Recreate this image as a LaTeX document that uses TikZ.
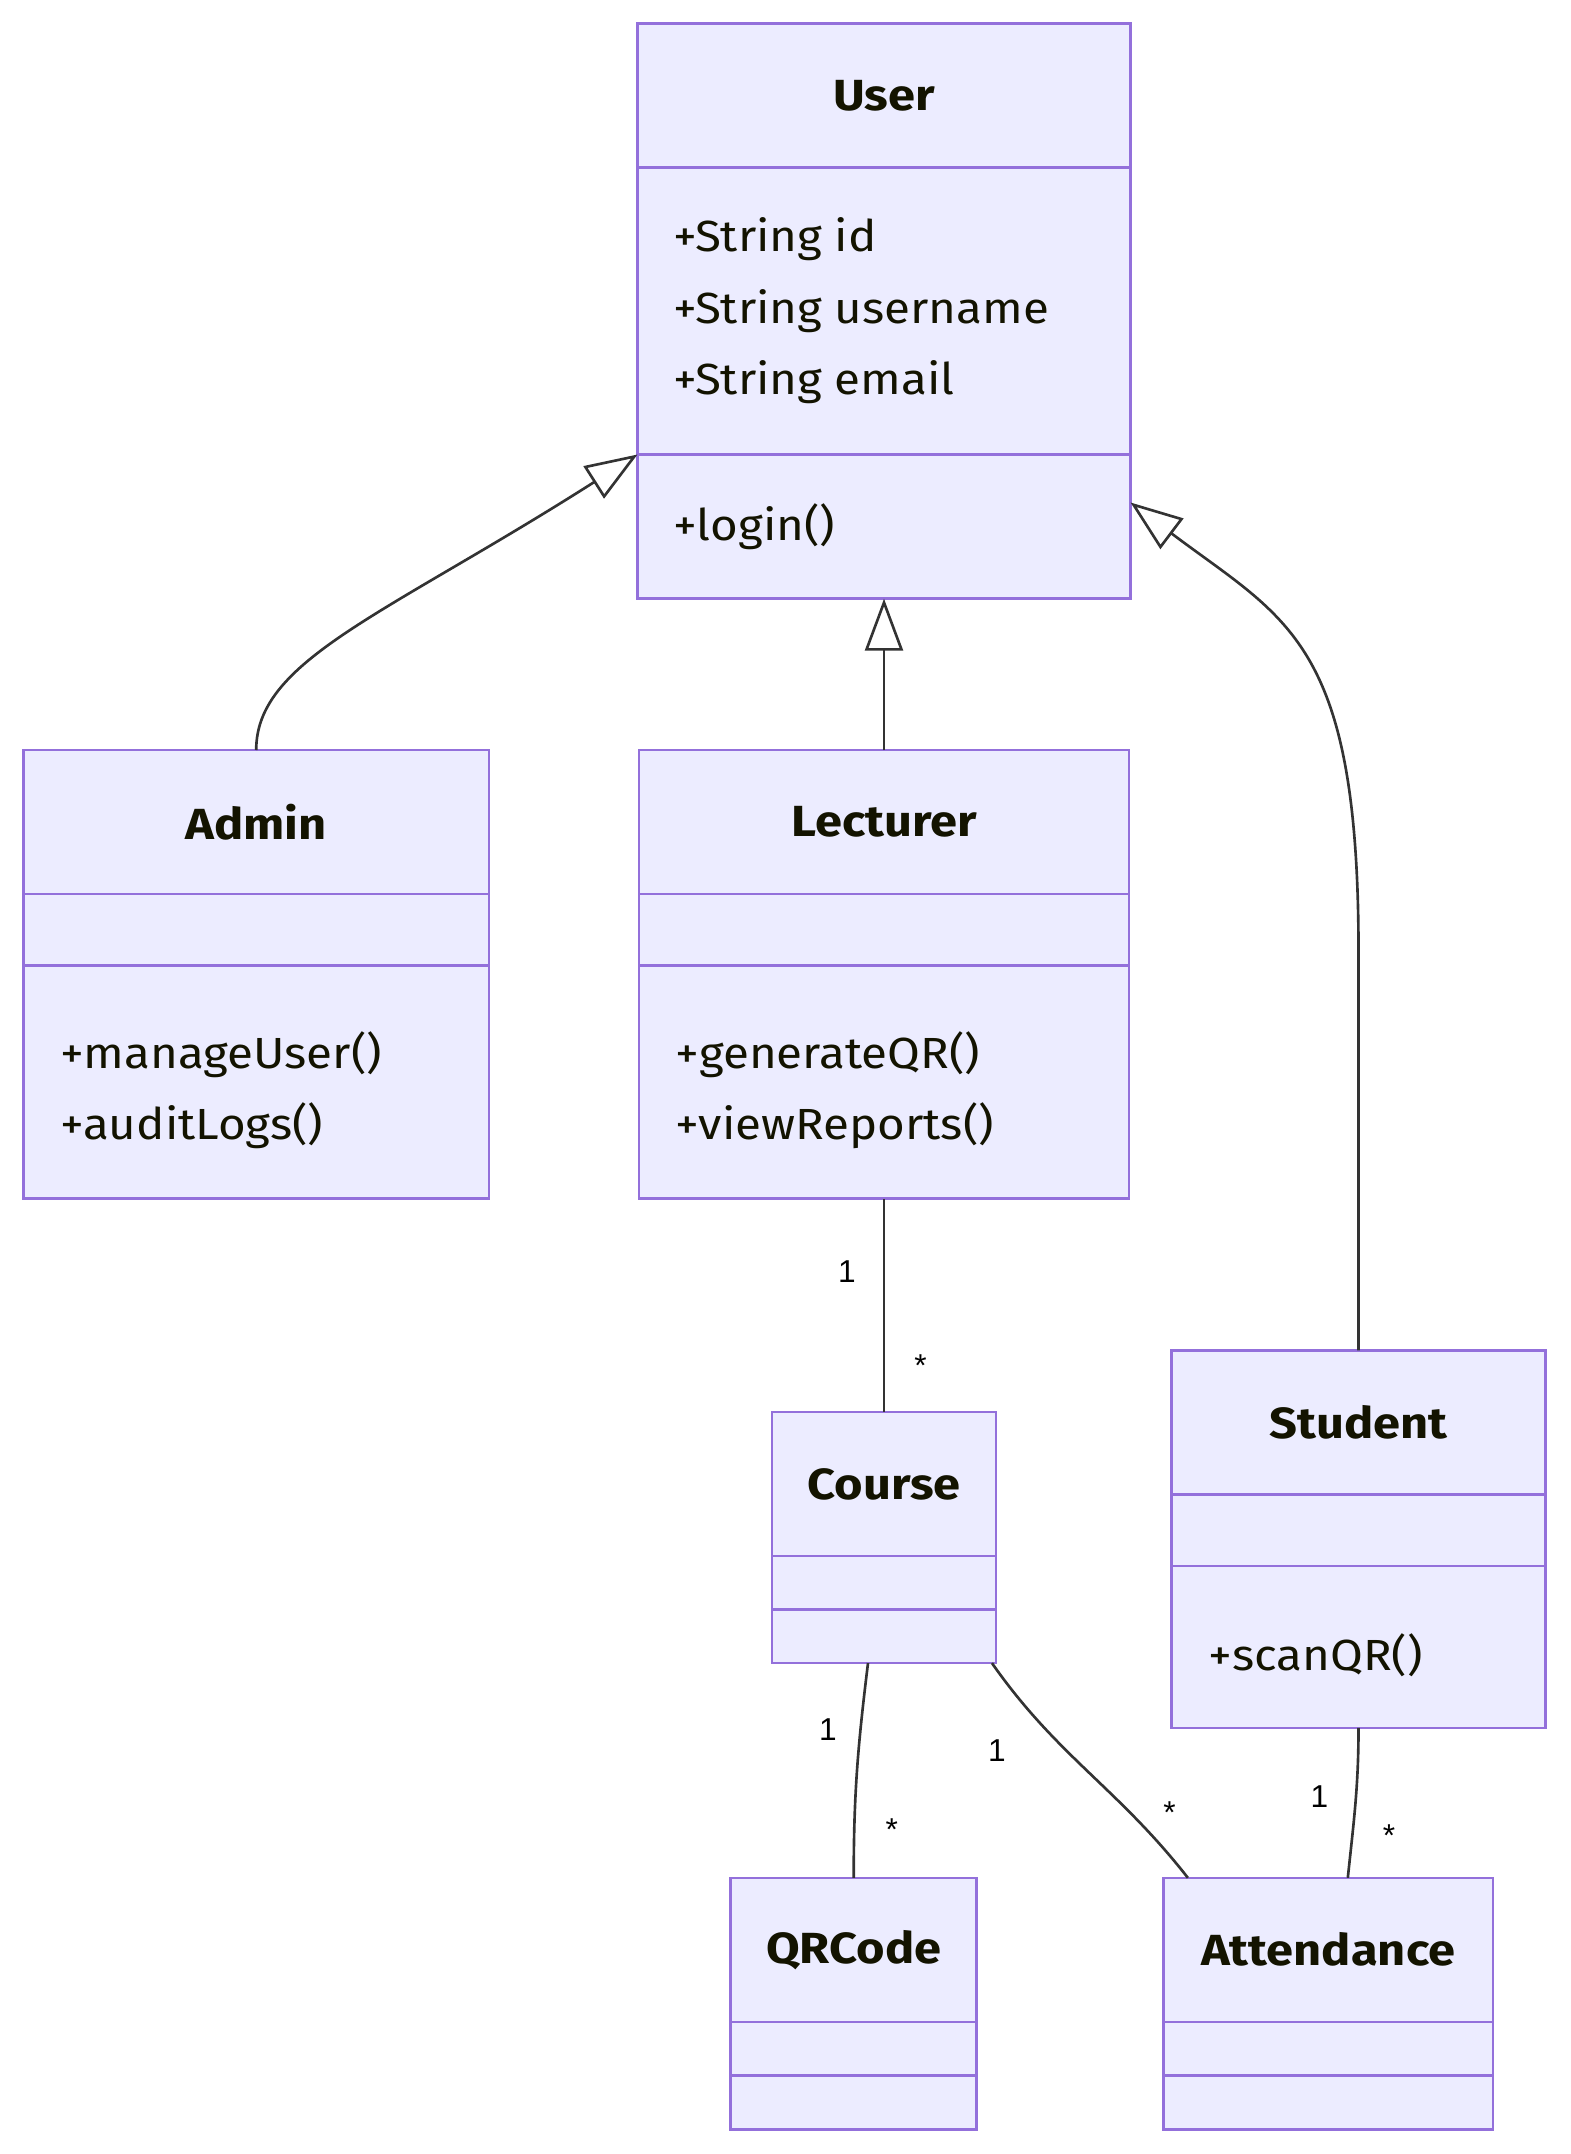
\documentclass[tikz,border=0pt]{standalone}
\usepackage{fontspec}
\setmainfont{Fira Sans}[FakeStretch=1.09, BoldFeatures={FakeStretch=1.12}]
\newfontfamily\cardfont{Liberation Sans}
\usetikzlibrary{positioning,arrows.meta}
\definecolor{classfill}{HTML}{ECECFF}
\definecolor{classline}{HTML}{9370DB}
\definecolor{edgeline}{HTML}{333333}
\definecolor{classtext}{HTML}{131300}

\begin{document}
\begin{tikzpicture}[
  head/.style={draw=classline, fill=classfill, line width=0.75pt, minimum height=1.44cm,
    outer sep=0pt, inner sep=0pt, text=classtext, font=\fontsize{12.4}{20.3}\selectfont\bfseries},
  part/.style={draw=classline, fill=classfill, line width=0.75pt, outer sep=0pt, inner sep=0pt},
  member/.style={anchor=west, align=left, inner sep=0pt, text=classtext,
    font=\fontsize{12.4}{20.3}\selectfont},
  card/.style={inner sep=0pt, text=black, font=\cardfont\fontsize{9}{11}\selectfont},
  gen/.style={draw=edgeline, line width=0.75pt, -{Triangle[open, length=0.52cm, width=0.38cm]}},
  assoc/.style={draw=edgeline, line width=0.75pt}
]
  \useasboundingbox (0,0) rectangle (15.7,-21.54);

  % --- User ---
  \node[head, minimum width=4.93cm] (user) at (8.84,-0.954) {User};
  \node[part, minimum width=4.93cm, minimum height=2.871cm, below=0pt of user] (user-attr) {};
  \node[part, minimum width=4.93cm, minimum height=1.442cm, below=0pt of user-attr] (user-ops) {};
  \node[member] (user-attr-txt) at ([xshift=0.35cm]user-attr.west)
    {+String id\\+String username\\+String email};
  \node[member] (user-ops-txt) at ([xshift=0.35cm]user-ops.west) {+login()};

  % --- Admin ---
  \node[head, minimum width=4.656cm] (admin) at (2.562,-8.22) {Admin};
  \node[part, minimum width=4.656cm, minimum height=0.715cm, below=0pt of admin] (admin-attr) {};
  \node[part, minimum width=4.656cm, minimum height=2.333cm, below=0pt of admin-attr] (admin-ops) {};
  \node[member] (admin-ops-txt) at ([xshift=0.36cm, yshift=-0.08cm]admin-ops.west)
    {+manageUser()\\+auditLogs()};

  % --- Lecturer ---
  \node[head, minimum width=4.903cm] (lecturer) at (8.84,-8.22) {Lecturer};
  \node[part, minimum width=4.903cm, minimum height=0.715cm, below=0pt of lecturer] (lecturer-attr) {};
  \node[part, minimum width=4.903cm, minimum height=2.333cm, below=0pt of lecturer-attr] (lecturer-ops) {};
  \node[member] (lecturer-ops-txt) at ([xshift=0.36cm, yshift=-0.08cm]lecturer-ops.west)
    {+generateQR()\\+viewReports()};

  % --- Student ---
  \node[head, minimum width=3.736cm] (student) at (13.585,-14.223) {Student};
  \node[part, minimum width=3.736cm, minimum height=0.715cm, below=0pt of student] (student-attr) {};
  \node[part, minimum width=3.736cm, minimum height=1.621cm, below=0pt of student-attr] (student-ops) {};
  \node[member] (student-ops-txt) at ([xshift=0.36cm, yshift=-0.08cm]student-ops.west) {+scanQR()};

  % --- Course ---
  \node[head, minimum width=2.239cm] (course) at (8.84,-14.84) {Course};
  \node[part, minimum width=2.239cm, minimum height=0.537cm, below=0pt of course] (course-attr) {};
  \node[part, minimum width=2.239cm, minimum height=0.534cm, below=0pt of course-attr] (course-ops) {};

  % --- QRCode ---
  \node[head, minimum width=2.458cm] (qrcode) at (8.537,-19.498) {QRCode};
  \node[part, minimum width=2.458cm, minimum height=0.537cm, below=0pt of qrcode] (qrcode-attr) {};
  \node[part, minimum width=2.458cm, minimum height=0.54cm, below=0pt of qrcode-attr] (qrcode-ops) {};

  % --- Attendance ---
  \node[head, minimum width=3.297cm] (attendance) at (13.283,-19.498) {Attendance};
  \node[part, minimum width=3.297cm, minimum height=0.537cm, below=0pt of attendance] (attendance-attr) {};
  \node[part, minimum width=3.297cm, minimum height=0.54cm, below=0pt of attendance-attr] (attendance-ops) {};

  % --- ereditarieta ---
  \draw[gen] (admin.north) .. controls +(0,0.9) and +(-2.53,-1.61) .. (user-attr.south west);
  \draw[gen] (lecturer.north) -- (user-ops.south);
  \draw[gen] (student.north) -- ++(0,4.0)
    .. controls +(0,3.1) and +(1.557,-1.174) .. ([yshift=-0.48cm]user-ops.north east);

  % --- associazioni ---
  \draw[assoc] (lecturer-ops.south) -- (course.north);
  \draw[assoc] ([xshift=-0.16cm]course-ops.south) to[out=-97, in=90] (qrcode.north);
  \draw[assoc] ([xshift=-0.04cm]course-ops.south east) to[out=-55, in=128]
    ([xshift=0.244cm]attendance.north west);
  \draw[assoc] (student-ops.south) to[out=-90, in=84] ([xshift=0.195cm]attendance.north);

  % --- molteplicita ---
  \node[card] (lc-one) at (8.47,-12.72) {1};
  \node[card] (lc-many) at (9.206,-13.66) {*};
  \node[card] (cq-one) at (8.278,-17.297) {1};
  \node[card] (cq-many) at (8.917,-18.30) {*};
  \node[card] (ca-one) at (9.97,-17.51) {1};
  \node[card] (ca-many) at (11.694,-18.13) {*};
  \node[card] (sa-one) at (13.194,-17.968) {1};
  \node[card] (sa-many) at (13.889,-18.36) {*};

\end{tikzpicture}
\end{document}
